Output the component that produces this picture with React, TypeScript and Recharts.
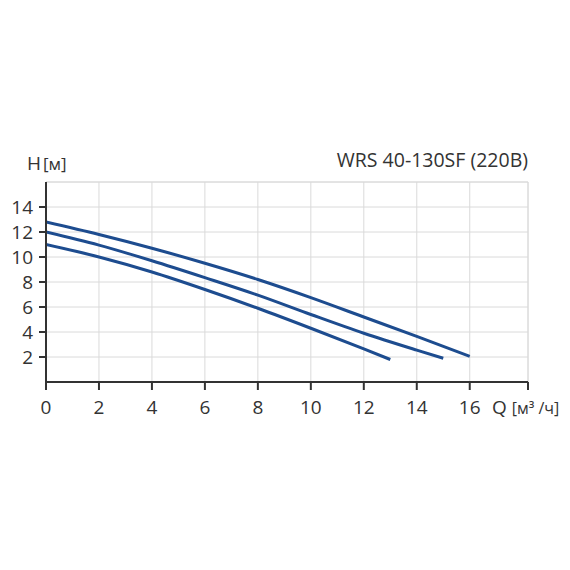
import { LineChart, Line, XAxis, YAxis, CartesianGrid, ReferenceLine } from "recharts";

// Q [м³/ч] and H [м] for the three pump speeds
const qHigh = [0, 2, 4, 6, 8, 10, 12, 14, 16];
const hHigh = [12.8, 11.8, 10.7, 9.5, 8.2, 6.75, 5.2, 3.65, 2.05];
const qMid = [0, 2, 4, 6, 8, 10, 12, 14, 15];
const hMid = [12.0, 10.95, 9.7, 8.35, 6.95, 5.4, 3.9, 2.55, 1.9];
const qLow = [0, 2, 4, 6, 8, 10, 12, 13];
const hLow = [11.0, 10.0, 8.8, 7.4, 5.9, 4.3, 2.65, 1.8];

const xTicks = [0, 2, 4, 6, 8, 10, 12, 14, 16, 18.2];
const yTicks = [2, 4, 6, 8, 10, 12, 14];
const title = "WRS 40-130SF (220В)";

const toRows = (q: number[], h: number[]) => q.map((v, i) => ({ q: v, h: h[i] }));

const FONT = "'Open Sans', sans-serif";
const LINE = "#1d4c8f";
const AXIS = "#333333";

export default function App() {
  return (
    <div style={{ position: "absolute", left: 0, top: 0, width: 570, height: 570, background: "#fff" }}>
      <LineChart width={570} height={570} margin={{ top: 182, right: 42, left: 0, bottom: 158 }}>
        <CartesianGrid stroke="#dadada" strokeWidth={1} />
        <ReferenceLine y={16} stroke="#dadada" />
        <ReferenceLine x={18.2} stroke="#dadada" />
        <XAxis
          type="number"
          dataKey="q"
          domain={[0, 18.2]}
          ticks={xTicks}
          interval={0}
          allowDataOverflow
          tickFormatter={(v: number) => (v > 17 ? "" : String(v))}
          height={30}
          stroke={AXIS}
          strokeWidth={2}
          tickSize={8}
          tickMargin={11}
          tick={{ fill: AXIS, fontSize: 19, fontFamily: FONT }}
        />
        <YAxis
          type="number"
          dataKey="h"
          domain={[0, 16]}
          ticks={yTicks}
          interval={0}
          width={46}
          stroke={AXIS}
          strokeWidth={2}
          tickSize={7}
          tickMargin={6}
          tick={{ fill: AXIS, fontSize: 19, fontFamily: FONT }}
        />
        <Line data={toRows(qHigh, hHigh)} dataKey="h" type="monotone" stroke={LINE} strokeWidth={3} dot={false} isAnimationActive={false} />
        <Line data={toRows(qMid, hMid)} dataKey="h" type="monotone" stroke={LINE} strokeWidth={3} dot={false} isAnimationActive={false} />
        <Line data={toRows(qLow, hLow)} dataKey="h" type="monotone" stroke={LINE} strokeWidth={3} dot={false} isAnimationActive={false} />
        <text x={27} y={170} fill={AXIS} fontFamily={FONT}>
          <tspan fontSize={19}>H</tspan>
          <tspan fontSize={17} dx={2}>[м]</tspan>
        </text>
        <text x={528} y={167} textAnchor="end" fill={AXIS} fontFamily={FONT} fontSize={19.5}>
          {title}
        </text>
        <text x={492} y={414} fill={AXIS} fontFamily={FONT}>
          <tspan fontSize={19}>Q</tspan>
          <tspan fontSize={16} dx={5}>[м³ /ч]</tspan>
        </text>
      </LineChart>
    </div>
  );
}
